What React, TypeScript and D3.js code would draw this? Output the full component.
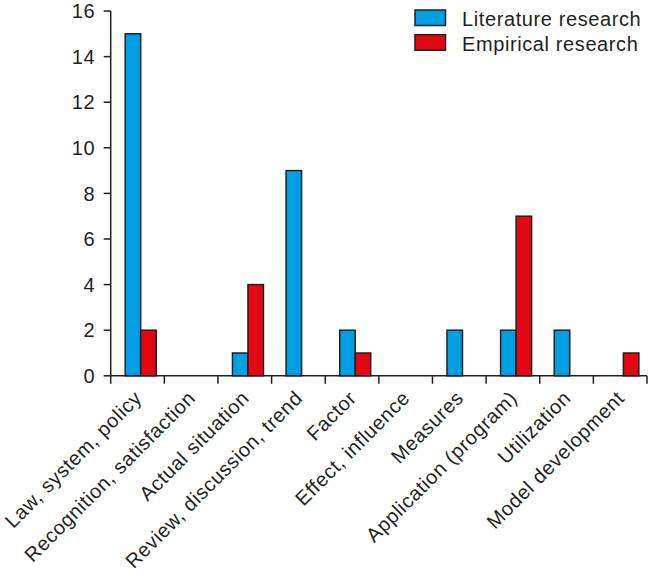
import React from "react";
import * as d3 from "d3";

const categories = [
  "Law, system, policy",
  "Recognition, satisfaction",
  "Actual situation",
  "Review, discussion, trend",
  "Factor",
  "Effect, influence",
  "Measures",
  "Application (program)",
  "Utilization",
  "Model development",
];
const literature = [15, 0, 1, 9, 2, 0, 2, 2, 2, 0];
const empirical = [2, 0, 4, 0, 1, 0, 0, 7, 0, 1];
const seriesNames = ["Literature research", "Empirical research"];
const seriesColors = ["#009fe3", "#e30613"];
const yTicks = [0, 2, 4, 6, 8, 10, 12, 14, 16];

const W = 650;
const H = 579;
const left = 110.7;
const right = 647;
const top = 11;
const bottom = 375.8;
const FONT = "'Liberation Sans', Arial, Helvetica, sans-serif";
const INK = "#231f20";

export default function App() {
  const x = d3.scaleBand<string>().domain(categories).range([left, right]).padding(0);
  const y = d3.scaleLinear().domain([0, 16]).range([bottom, top]);
  const bw = x.bandwidth();
  const barW = 15.5;
  const offset = 14.5;
  const series = [literature, empirical];

  return (
    <svg width={W} height={H} style={{ position: "absolute", left: 0, top: 0, background: "#fff" }}>
      {series.map((vals, si) =>
        vals.map((v, i) =>
          v > 0 ? (
            <rect
              key={`${si}-${i}`}
              x={(x(categories[i]) as number) + offset + si * barW}
              y={y(v)}
              width={barW}
              height={y(0) - y(v)}
              fill={seriesColors[si]}
              stroke={INK}
              strokeWidth={1.5}
            />
          ) : null
        )
      )}
      <line x1={left} x2={left} y1={top} y2={bottom} stroke={INK} strokeWidth={1.5} />
      {yTicks.map((t) => (
        <g key={t}>
          <line x1={left - 7} x2={left} y1={y(t)} y2={y(t)} stroke={INK} strokeWidth={1.5} />
          <text
            x={left - 15.5}
            y={y(t)}
            dy="0.36em"
            textAnchor="end"
            fontFamily={FONT}
            fontSize={20}
            letterSpacing={0.6}
            fill={INK}
          >
            {t}
          </text>
        </g>
      ))}
      <line x1={left} x2={right} y1={bottom} y2={bottom} stroke={INK} strokeWidth={1.5} />
      {categories.map((c, i) => (
        <line
          key={`t${i}`}
          x1={x(c) as number}
          x2={x(c) as number}
          y1={bottom}
          y2={bottom + 8}
          stroke={INK}
          strokeWidth={1.5}
        />
      ))}
      <line x1={right} x2={right} y1={bottom} y2={bottom + 8} stroke={INK} strokeWidth={1.5} />
      {categories.map((c, i) => {
        const cx = (x(c) as number) + bw / 2 + 5.5;
        const cy = bottom + 23.5;
        return (
          <text
            key={`l${i}`}
            transform={`translate(${cx},${cy}) rotate(-45)`}
            textAnchor="end"
            fontFamily={FONT}
            fontSize={20}
            letterSpacing={0.6}
            fill={INK}
          >
            {c}
          </text>
        );
      })}
      {seriesNames.map((s, i) => (
        <g key={s} transform={`translate(415,${10 + i * 24.7})`}>
          <rect x={0} y={0} width={30.5} height={15.5} fill={seriesColors[i]} stroke={INK} strokeWidth={1.5} />
          <text x={47} y={16} fontFamily={FONT} fontSize={20} letterSpacing={0.6} fill={INK}>
            {s}
          </text>
        </g>
      ))}
    </svg>
  );
}
